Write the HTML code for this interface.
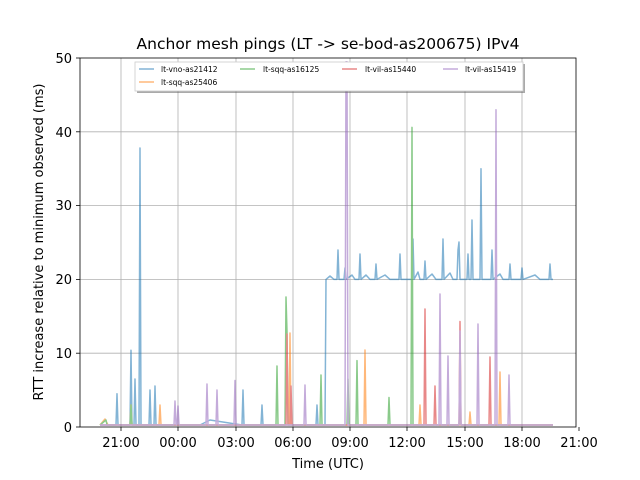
<!DOCTYPE html>
<html><head><meta charset="utf-8"><style>body{margin:0;background:#fff}svg{display:block;font-family:"DejaVu Sans","Liberation Sans",sans-serif}</style></head><body>
<svg width="640" height="480" viewBox="0 0 640 480">
<rect width="640" height="480" fill="#fff"/>
<g stroke="#b0b0b0" stroke-width="0.8">
<line x1="121" y1="58" x2="121" y2="427"/><line x1="178" y1="58" x2="178" y2="427"/><line x1="236" y1="58" x2="236" y2="427"/><line x1="293" y1="58" x2="293" y2="427"/><line x1="350" y1="58" x2="350" y2="427"/><line x1="407" y1="58" x2="407" y2="427"/><line x1="465" y1="58" x2="465" y2="427"/><line x1="522" y1="58" x2="522" y2="427"/>
<line x1="80" y1="353.2" x2="576" y2="353.2"/><line x1="80" y1="279.4" x2="576" y2="279.4"/><line x1="80" y1="205.6" x2="576" y2="205.6"/><line x1="80" y1="131.8" x2="576" y2="131.8"/>
</g>
<g fill="none" stroke-width="1.5" stroke-linejoin="round" opacity="0.55">
<polyline stroke="#1f77b4" points="100,425 116,425 117,393.8 118,425 130,425 131,350.2 132,425 134,425 135,379 136,425 139,425 140,148 141,425 149,425 150,390 151,425 154,425 155,386 156,425 200,425 210,420 242,425 243,390 244,425 261,425 262,405 263,425 300,425 316,425 317,405 318,425 325,425 326,279.4 330,276 334,279.4 337,279.4 338,250 339,279.4 344,279.4 345,268 346,279.4 352,275 355,279.4 359,279.4 360,254 361,279.4 366,275 370,279.4 375,279.4 376,264 377,279.4 385,275 390,279.4 399,279.4 400,254 401,279.4 412,279.4 413,239 414,279.4 418,272 420,279.4 424,279.4 425,261 426,279.4 432,274 436,279.4 442,279.4 443,239 444,279.4 450,273 453,279.4 457,279.4 458,250 459,242 460,279.4 467,279.4 468,254 469,279.4 471,279.4 472,220 473,279.4 480,279.4 481,168.7 482,279.4 491,279.4 492,250 493,279.4 500,274 503,279.4 509,279.4 510,264 511,279.4 521,279.4 522,268 523,279.4 535,275 540,279.4 549,279.4 550,264 551,279.4 553,279.4"/>
<polyline stroke="#ff7f0e" points="100,425 105,419 108,425 130,425 131,405 132,425 159,425 160,405 161,425 289,425 290,333 291,425 364,425 365,350 366,425 419,425 420,405 421,425 469,425 470,412 471,425 499,425 500,372 501,425 553,425"/>
<polyline stroke="#2ca02c" points="100,425 106,420 107,425 130,425 131,405 132,425 276,425 277,366 278,425 285,425 286,297 287,332 288,425 320,425 321,375 322,425 347,425 348,379 349,425 356,425 357,360.6 358,425 388,425 389,397.5 390,425 411,425 412,127.4 413,425 459,425 460,401 461,425 553,425"/>
<polyline stroke="#d62728" points="100,425 286,425 287,334 288,425 290,425 291,386 292,425 424,425 425,309 426,425 434,425 435,386 436,425 459,425 460,321.5 461,425 489,425 490,357 491,425 553,425"/>
<polyline stroke="#9467bd" points="100,425 174,425 175,401 176,425 177,425 178,406 179,425 206,425 207,384 208,425 216,425 217,390 218,425 234,425 235,380.5 236,425 304,425 305,385 306,425 345,425 346,61.7 347,61.7 348,425 439,425 440,294 441,425 447,425 448,356 449,425 459,425 460,331 461,425 477,425 478,324 479,425 495,425 496,109.7 497,425 508,425 509,375 510,425 553,425"/>
</g>
<rect x="80" y="58" width="496" height="369" fill="none" stroke="#000" stroke-width="0.8"/>
<g stroke="#000" stroke-width="0.8">
<line x1="121" y1="427" x2="121" y2="431"/><line x1="178" y1="427" x2="178" y2="431"/><line x1="236" y1="427" x2="236" y2="431"/><line x1="293" y1="427" x2="293" y2="431"/><line x1="350" y1="427" x2="350" y2="431"/><line x1="407" y1="427" x2="407" y2="431"/><line x1="465" y1="427" x2="465" y2="431"/><line x1="522" y1="427" x2="522" y2="431"/><line x1="579" y1="427" x2="579" y2="431"/>
<line x1="76" y1="427" x2="80" y2="427"/><line x1="76" y1="353.2" x2="80" y2="353.2"/><line x1="76" y1="279.4" x2="80" y2="279.4"/><line x1="76" y1="205.6" x2="80" y2="205.6"/><line x1="76" y1="131.8" x2="80" y2="131.8"/><line x1="76" y1="58" x2="80" y2="58"/>
</g>
<g font-size="13" text-anchor="middle" fill="#000">
<text x="121" y="447">21:00</text><text x="178" y="447">00:00</text><text x="236" y="447">03:00</text><text x="293" y="447">06:00</text><text x="350" y="447">09:00</text><text x="407" y="447">12:00</text><text x="465" y="447">15:00</text><text x="522" y="447">18:00</text><text x="579" y="447">21:00</text>
</g>
<g font-size="13" text-anchor="end"><text x="72" y="432">0</text><text x="72" y="358">10</text><text x="72" y="284">20</text><text x="72" y="210">30</text><text x="72" y="137">40</text><text x="72" y="63">50</text></g>
<text x="328" y="468" font-size="13" text-anchor="middle">Time (UTC)</text>
<text transform="translate(43,242) rotate(-90)" font-size="13" text-anchor="middle">RTT increase relative to minimum observed (ms)</text>
<text x="328" y="49" font-size="15.5" text-anchor="middle">Anchor mesh pings (LT -&gt; se-bod-as200675) IPv4</text>
<rect x="137" y="64" width="388" height="29" fill="#555" opacity="0.5"/>
<rect x="135" y="62" width="388" height="29" fill="#fff" stroke="#ccc" stroke-width="0.8"/>
<g stroke-width="1.5" opacity="0.55">
<line x1="139" y1="69" x2="154" y2="69" stroke="#1f77b4"/><line x1="240" y1="69" x2="255" y2="69" stroke="#2ca02c"/><line x1="342" y1="69" x2="357" y2="69" stroke="#d62728"/><line x1="443" y1="69" x2="458" y2="69" stroke="#9467bd"/><line x1="139" y1="82" x2="154" y2="82" stroke="#ff7f0e"/>
</g>
<g font-size="7.5"><text x="161" y="72">lt-vno-as21412</text><text x="263" y="72">lt-sqq-as16125</text><text x="365" y="72">lt-vil-as15440</text><text x="465" y="72">lt-vil-as15419</text><text x="161" y="85">lt-sqq-as25406</text></g>
</svg>
</body></html>
